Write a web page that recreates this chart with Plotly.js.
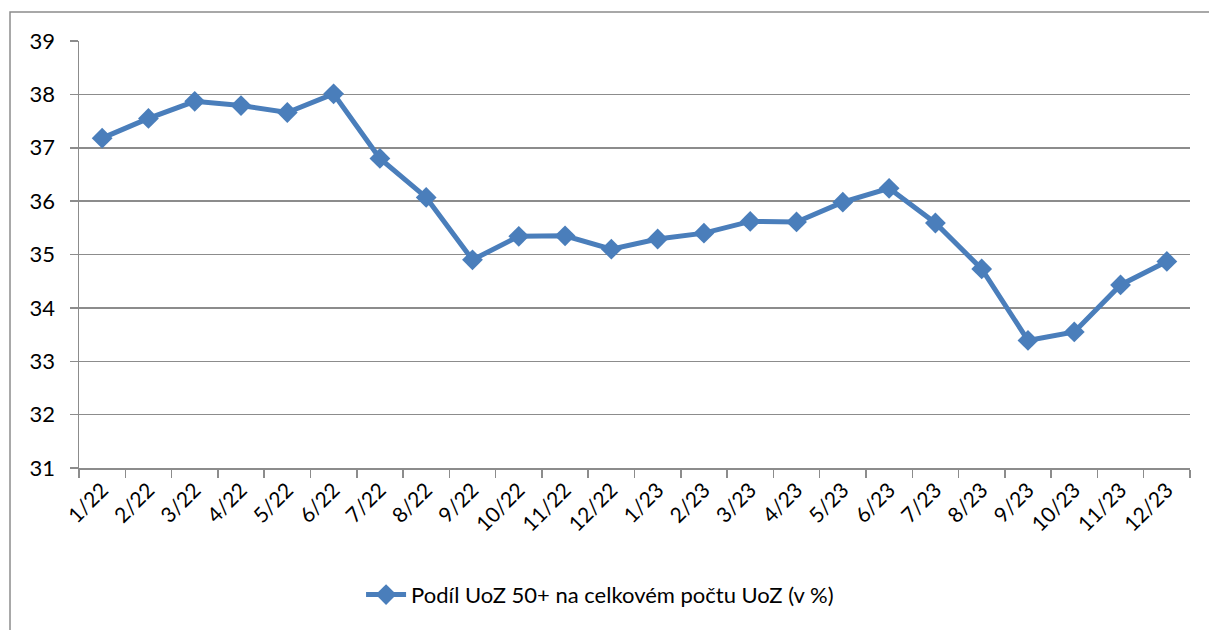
<!DOCTYPE html>
<html>
<head>
<meta charset="utf-8">
<script src="https://cdn.plot.ly/plotly-3.0.1.min.js"></script>
<style>
html,body{margin:0;padding:0;background:#fff;}
#chart{width:1209px;height:630px;}
</style>
</head>
<body>
<div id="chart"></div>
<script>
const categories = ["1/22","2/22","3/22","4/22","5/22","6/22","7/22","8/22","9/22","10/22","11/22","12/22",
                    "1/23","2/23","3/23","4/23","5/23","6/23","7/23","8/23","9/23","10/23","11/23","12/23"];
const shareValues = [37.18,37.55,37.87,37.79,37.66,38.01,36.80,36.07,34.90,35.34,35.35,35.10,
                     35.29,35.40,35.62,35.61,35.98,36.24,35.59,34.73,33.39,33.55,34.43,34.87];
const seriesName = "Podíl UoZ 50+ na celkovém počtu UoZ (v %)";
const yTicks = [31,32,33,34,35,36,37,38,39];

const FONT = "Lato, 'Noto Sans', sans-serif";
const GRID = "#8c8c8c";

const trace = {
  x: categories,
  y: shareValues,
  type: "scatter",
  mode: "lines+markers",
  name: seriesName,
  line: {color: "#4a7ebb", width: 5},
  marker: {symbol: "diamond", size: 16, color: "#4a7ebb"},
  showlegend: true
};

const layout = {
  width: 1209,
  height: 630,
  margin: {l: 79, r: 19, t: 41, b: 162},
  paper_bgcolor: "#fff",
  plot_bgcolor: "#fff",
  font: {family: FONT, size: 22, color: "#000"},
  showlegend: true,
  xaxis: {
    type: "category",
    range: [-0.5, categories.length - 0.5],
    autorange: false,
    tickangle: -45,
    tickson: "boundaries",
    ticks: "outside",
    ticklen: 8,
    tickcolor: GRID,
    tickwidth: 1.5,
    showline: true,
    linecolor: GRID,
    linewidth: 1.5,
    showgrid: false,
    tickfont: {family: FONT, size: 21, color: "#000"},
    fixedrange: true
  },
  yaxis: {
    range: [31, 39],
    autorange: false,
    tickvals: yTicks,
    ticktext: yTicks.map(String),
    ticks: "outside",
    ticklen: 8,
    tickcolor: GRID,
    tickwidth: 1.5,
    showline: true,
    linecolor: GRID,
    linewidth: 1.5,
    showgrid: true,
    gridcolor: GRID,
    gridwidth: 1.5,
    zeroline: false,
    ticklabelstandoff: 10,
    tickfont: {family: FONT, size: 22, color: "#000"},
    fixedrange: true
  },
  legend: {
    orientation: "h",
    x: 0.469,
    xanchor: "center",
    y: -0.297,
    yanchor: "middle",
    font: {family: FONT, size: 22, color: "#000"},
    bgcolor: "rgba(0,0,0,0)",
    itemwidth: 40
  },
  shapes: [{
    type: "rect",
    xref: "paper", yref: "paper",
    x0: -0.0621, x1: 1.03,
    y0: -0.5, y1: 1.068,
    line: {color: "#8c8c8c", width: 1.5},
    fillcolor: "rgba(0,0,0,0)",
    layer: "below"
  }]
};

Plotly.newPlot("chart", [trace], layout, {displayModeBar: false, staticPlot: true});
</script>
</body>
</html>
